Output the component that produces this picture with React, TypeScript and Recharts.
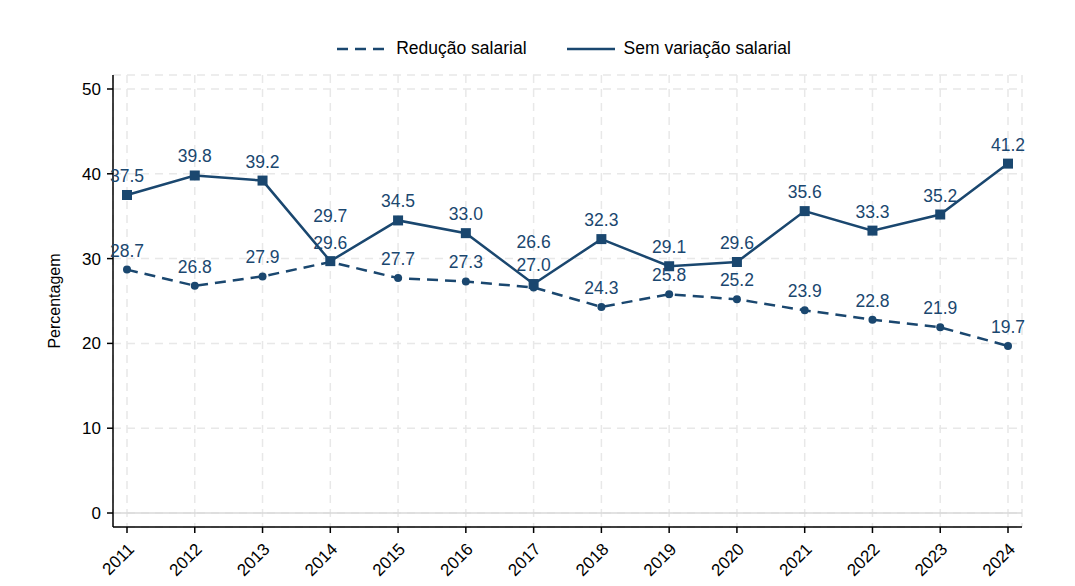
import React from "react";
import {
  LineChart,
  Line,
  XAxis,
  YAxis,
  CartesianGrid,
  Legend,
  LabelList,
  ReferenceLine,
} from "recharts";

const years = ["2011", "2012", "2013", "2014", "2015", "2016", "2017", "2018", "2019", "2020", "2021", "2022", "2023", "2024"];
const reducaoSalarial = [28.7, 26.8, 27.9, 29.6, 27.7, 27.3, 26.6, 24.3, 25.8, 25.2, 23.9, 22.8, 21.9, 19.7];
const semVariacao = [37.5, 39.8, 39.2, 29.7, 34.5, 33.0, 27.0, 32.3, 29.1, 29.6, 35.6, 33.3, 35.2, 41.2];
const yTicks = [0, 10, 20, 30, 40, 50];

// labels lifted higher where the two series overlap
const raisedSem = ["2014"];
const raisedReducao = ["2017"];

const data = years.map((year, i) => ({
  year,
  reducao: reducaoSalarial[i],
  sem: semVariacao[i],
}));

const NAVY = "#1a476f";
const FONT = "'Liberation Sans', Arial, sans-serif";

const SquareDot = (props: any) => {
  const { cx, cy } = props;
  if (cx == null || cy == null) return null;
  return <rect x={cx - 5} y={cy - 5} width={10} height={10} fill={NAVY} />;
};

const CircleDot = (props: any) => {
  const { cx, cy } = props;
  if (cx == null || cy == null) return null;
  return <circle cx={cx} cy={cy} r={4} fill={NAVY} />;
};

const makeLabel = (raised: string[]) => (props: any) => {
  const { x, y, value, index } = props;
  const lift = raised.includes(years[index]) ? 26 : 0;
  return (
    <text
      x={x}
      y={y - 13 - lift}
      textAnchor="middle"
      fill={NAVY}
      fontSize={17.5}
      fontFamily={FONT}
    >
      {Number(value).toFixed(1)}
    </text>
  );
};

const YearTick = (props: any) => {
  const { x, y, payload } = props;
  const ax = x + 4;
  const ay = y + 11;
  return (
    <text
      x={ax}
      y={ay}
      transform={`rotate(-45, ${ax}, ${ay})`}
      textAnchor="end"
      dy="0.35em"
      fill="#000"
      fontSize={17}
      fontFamily={FONT}
    >
      {payload.value}
    </text>
  );
};

const LegendContent = () => (
  <div
    style={{
      display: "flex",
      justifyContent: "center",
      alignItems: "center",
      fontFamily: FONT,
      fontSize: 17.5,
      color: "#000",
      paddingLeft: 106,
    }}
  >
    <svg width={50} height={10} style={{ marginRight: 9 }}>
      <line x1={0} y1={5} x2={50} y2={5} stroke={NAVY} strokeWidth={2.5} strokeDasharray="11 7" />
    </svg>
    <span style={{ marginRight: 40 }}>Redução salarial</span>
    <svg width={48} height={10} style={{ marginRight: 9 }}>
      <line x1={0} y1={5} x2={48} y2={5} stroke={NAVY} strokeWidth={2.5} />
    </svg>
    <span>Sem variação salarial</span>
  </div>
);

export default function App() {
  return (
    <div style={{ position: "absolute", left: 0, top: 0, background: "#fff" }}>
      <LineChart
        width={1075}
        height={586}
        data={data}
        margin={{ top: 51, right: 53, bottom: 0, left: 0 }}
      >
        <CartesianGrid stroke="#e8e8e8" strokeDasharray="8 6" strokeWidth={1.5} />
        <ReferenceLine y={0} stroke="#d8d8d8" strokeWidth={1.5} />
        <XAxis
          dataKey="year"
          padding={{ left: 14, right: 14 }}
          height={59}
          tick={<YearTick />}
          tickSize={6}
          stroke="#000"
          strokeWidth={1.5}
          interval={0}
        />
        <YAxis
          domain={[-1.65, 51.65]}
          ticks={yTicks}
          width={113}
          tickSize={6}
          tickMargin={6}
          stroke="#000"
          strokeWidth={1.5}
          tick={{ fill: "#000", fontSize: 17, fontFamily: FONT }}
          allowDataOverflow
          label={{
            value: "Percentagem",
            angle: -90,
            position: "center",
            dx: -2,
            style: { fill: "#000", fontSize: 16, fontFamily: FONT },
          }}
        />
        <Legend
          verticalAlign="top"
          align="center"
          content={<LegendContent />}
          wrapperStyle={{ top: 38, height: 24 }}
        />
        <Line
          dataKey="reducao"
          name="Redução salarial"
          stroke={NAVY}
          strokeWidth={2.5}
          strokeDasharray="11 7"
          dot={<CircleDot />}
          activeDot={false}
          isAnimationActive={false}
        >
          <LabelList dataKey="reducao" content={makeLabel(raisedReducao)} />
        </Line>
        <Line
          dataKey="sem"
          name="Sem variação salarial"
          stroke={NAVY}
          strokeWidth={2.5}
          dot={<SquareDot />}
          activeDot={false}
          isAnimationActive={false}
        >
          <LabelList dataKey="sem" content={makeLabel(raisedSem)} />
        </Line>
      </LineChart>
    </div>
  );
}
